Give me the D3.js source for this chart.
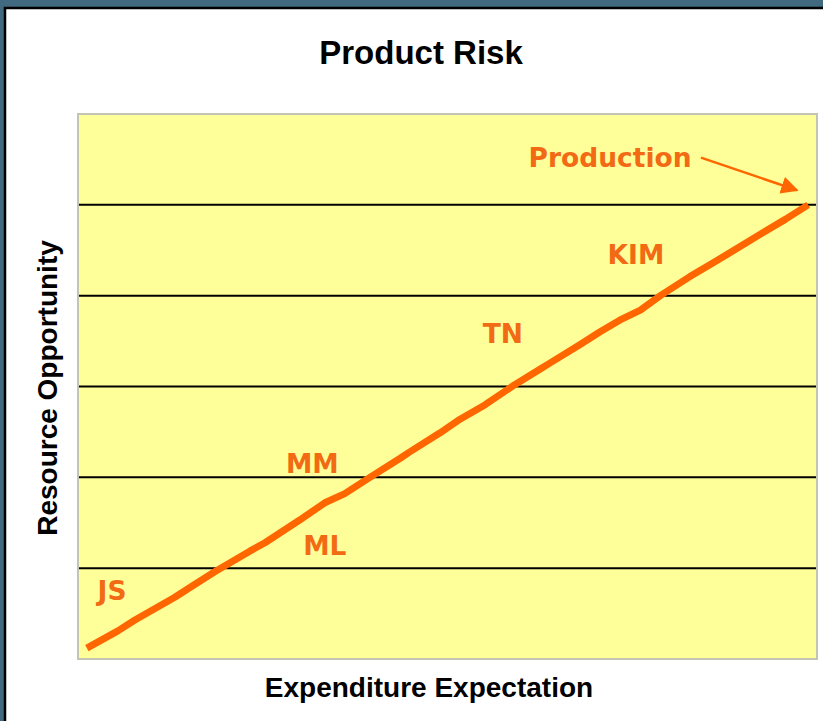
<!DOCTYPE html>
<html>
<head>
<meta charset="utf-8">
<script src="https://cdn.jsdelivr.net/npm/d3@7"></script>
<style>
  body { margin: 0; background: #41697f; overflow: hidden; }
  svg { display: block; }
</style>
</head>
<body>
<script>
// page size
const width = 823;
const height = 721;

// plot area
const plot = { left: 78, top: 114, right: 817, bottom: 659 };

// line points (expenditure, opportunity)
const lineX = [0.12, 0.54, 0.77, 1.31, 1.52, 1.85, 2.33, 2.53, 3.00, 3.34, 3.61, 3.95, 4.36, 4.49, 4.90,
               5.17, 5.51, 5.91, 6.25, 6.39, 6.79, 7.06, 7.33, 7.61, 7.88, 8.28, 8.55, 8.96, 9.30, 9.57, 9.88];
const lineY = [0.12, 0.31, 0.43, 0.68, 0.79, 0.96, 1.19, 1.28, 1.53, 1.72, 1.82, 2.00, 2.21, 2.28, 2.49,
               2.64, 2.80, 3.02, 3.19, 3.26, 3.46, 3.60, 3.73, 3.84, 4.00, 4.21, 4.34, 4.54, 4.71, 4.84, 5.00];

// horizontal grid levels
const gridLevels = [1, 2, 3, 4, 5];

// stage labels
const labelNames = ['JS', 'ML', 'MM', 'TN', 'KIM', 'Production'];
const labelX = [0.46, 3.34, 3.17, 5.75, 7.55, 7.20];
const labelY = [0.65, 1.15, 2.05, 3.48, 4.35, 5.42];

// arrow from Production label to end of line
const arrowX = [8.43, 9.73];
const arrowY = [5.52, 5.16];

const orange = '#ff6600';

const x = d3.scaleLinear().domain([0, 10]).range([plot.left, plot.right]);
const y = d3.scaleLinear().domain([0, 6]).range([plot.bottom, plot.top]);

const svg = d3.select('body').append('svg').attr('width', width).attr('height', height);

// white panel with dark border
svg.append('rect').attr('x', 5).attr('y', 8).attr('width', width + 40).attr('height', height + 40)
    .attr('fill', '#ffffff').attr('stroke', '#000000').attr('stroke-width', 2.5);

const defs = svg.append('defs');
defs.append('marker').attr('id', 'head')
    .attr('viewBox', '0 0 10 10').attr('refX', 9).attr('refY', 5)
    .attr('markerWidth', 7).attr('markerHeight', 7).attr('orient', 'auto')
    .append('path').attr('d', 'M0,0 L10,5 L0,10 Z').attr('fill', orange);

// title
svg.append('text').attr('x', 421).attr('y', 64).attr('text-anchor', 'middle')
    .attr('font-family', 'Liberation Sans, Arial, sans-serif').attr('font-weight', 'bold')
    .attr('font-size', '33px').attr('fill', '#000').text('Product Risk');

// plot background
svg.append('rect').attr('x', plot.left).attr('y', plot.top)
    .attr('width', plot.right - plot.left).attr('height', plot.bottom - plot.top)
    .attr('fill', '#ffff99').attr('stroke', '#c4c4b4').attr('stroke-width', 2);

// grid lines
svg.selectAll('line.grid')
    .data(gridLevels)
    .enter()
    .append('line')
    .attr('class', 'grid')
    .attr('x1', plot.left + 1).attr('x2', plot.right - 1)
    .attr('y1', d => y(d)).attr('y2', d => y(d))
    .attr('stroke', '#000').attr('stroke-width', 2);

// the curve
const pts = lineX.map((d, i) => [d, lineY[i]]);
svg.append('path')
    .datum(pts)
    .attr('d', d3.line().x(d => x(d[0])).y(d => y(d[1])))
    .attr('fill', 'none').attr('stroke', orange).attr('stroke-width', 7)
    .attr('stroke-linejoin', 'round');

// labels
svg.selectAll('text.lab')
    .data(labelNames)
    .enter()
    .append('text')
    .attr('class', 'lab')
    .attr('x', (d, i) => x(labelX[i]))
    .attr('y', (d, i) => y(labelY[i]))
    .attr('text-anchor', 'middle')
    .attr('font-family', 'DejaVu Sans, Verdana, sans-serif')
    .attr('font-weight', 'bold')
    .attr('font-size', '26.5px')
    .attr('fill', '#f26a13')
    .text(d => d);

// arrow
svg.append('line')
    .attr('x1', x(arrowX[0])).attr('y1', y(arrowY[0]))
    .attr('x2', x(arrowX[1])).attr('y2', y(arrowY[1]))
    .attr('stroke', orange).attr('stroke-width', 2.5)
    .attr('marker-end', 'url(#head)');

// axis titles
svg.append('text').attr('x', 429).attr('y', 697).attr('text-anchor', 'middle')
    .attr('font-family', 'Liberation Sans, Arial, sans-serif').attr('font-weight', 'bold')
    .attr('font-size', '28px').attr('fill', '#000').text('Expenditure Expectation');

svg.append('text').attr('transform', 'translate(57,388) rotate(-90)').attr('text-anchor', 'middle')
    .attr('font-family', 'Liberation Sans, Arial, sans-serif').attr('font-weight', 'bold')
    .attr('font-size', '28px').attr('fill', '#000').text('Resource Opportunity');
</script>
</body>
</html>
